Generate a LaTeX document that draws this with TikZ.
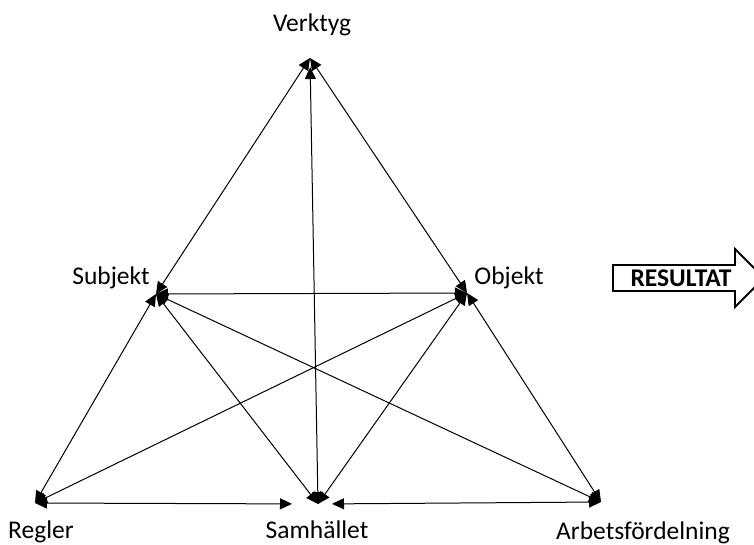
\documentclass[tikz,border=0pt]{standalone}
\usepackage{fontspec}
\setmainfont{Carlito}
\usetikzlibrary{arrows.meta}

\begin{document}
\begin{tikzpicture}[x=1pt,y=-1pt,>={Triangle[length=12pt,width=11pt]},
  link/.style={<->,line width=1pt},
  lbl/.style={anchor=base,font=\fontsize{25.5}{30}\selectfont}]

\useasboundingbox (0,0) rectangle (754,545);

% ---------------- CORNERS ----------------
\coordinate (verktyg) at (310,58);
\coordinate (subjekt) at (156,294);
\coordinate (objekt)  at (467,293);
\coordinate (regler)  at (35,503);
\coordinate (samh)    at (318,504);
\coordinate (arbete)  at (601,502);

% labels
\node[lbl] (tVerktyg) at (312,32)  {Verktyg};
\node[lbl] (tSubjekt) at (111,284) {Subjekt};
\node[lbl] (tObjekt)  at (509,284) {Objekt};
\node[lbl] (tRegler)  at (41,538)  {Regler};
\node[lbl] (tSamh)    at (317,538) {Samhället};
\node[lbl] (tArbete)  at (643,539) {Arbetsfördelning};

% ---------------- UPPER TRIANGLE ----------------
\draw[link] (verktyg) -- (subjekt);
\draw[link] (verktyg) -- (objekt);
\draw[link] (subjekt) -- (objekt);

% vertical from the top
\draw[link,shorten <=9pt] (verktyg) -- (samh);

% ---------------- LOWER PART ----------------
\draw[link] (subjekt) -- (regler);
\draw[link] (subjekt) -- (samh);
\draw[link] (subjekt) -- (arbete);
\draw[link] (objekt) -- (regler);
\draw[link] (objekt) -- (samh);
\draw[link] (objekt) -- (arbete);

% base line
\draw[link,shorten >=26pt] (regler) -- (samh);
\draw[link,shorten <=14pt] (samh) -- (arbete);

% ---------------- RESULT ARROW ----------------
\begin{scope}
\clip (0,0) rectangle (754,545);
\draw[line width=1.8pt,line join=miter] (613,265) -- (735,265) -- (735,249)
  -- (764,278) -- (735,307) -- (735,291) -- (613,291) -- cycle;
\end{scope}
\node[anchor=base,font=\fontsize{25.5}{30}\selectfont\bfseries] (res) at (681,286) {RESULTAT};

\end{tikzpicture}
\end{document}
